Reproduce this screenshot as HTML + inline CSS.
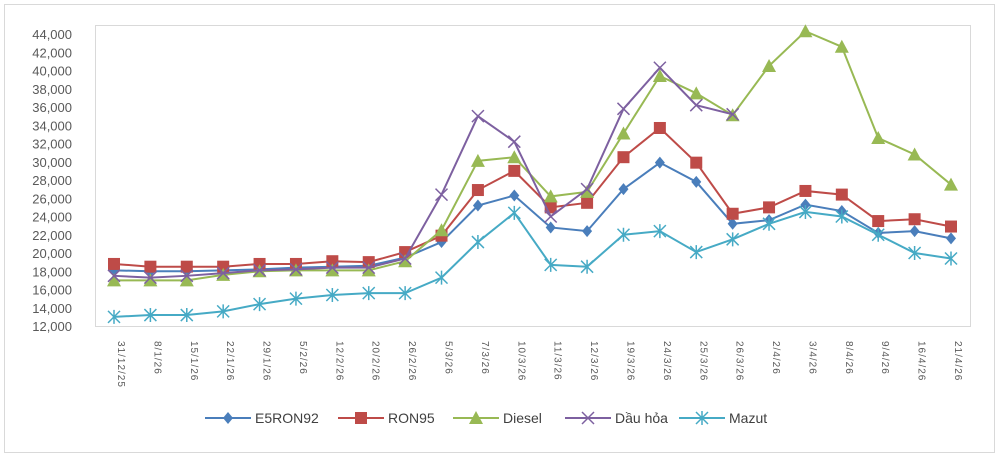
<!DOCTYPE html>
<html><head><meta charset="utf-8"><style>
body{margin:0;background:#fff;width:1000px;height:457px;overflow:hidden;font-family:"Liberation Sans",sans-serif}
</style></head><body>
<svg id="chart" width="1000" height="457" xmlns="http://www.w3.org/2000/svg">
<rect x="4.5" y="4.5" width="990" height="448" fill="#fff" stroke="#d9d9d9"/>
<rect x="95.5" y="25.5" width="875" height="301" fill="none" stroke="#d9d9d9"/>
<g id="yaxis"></g><g id="xaxis"></g><g id="series"></g><g id="legend"></g>
</svg>
<script>
const categories=["31/12/25","8/1/26","15/1/26","22/1/26","29/1/26","5/2/26","12/2/26","20/2/26","26/2/26","5/3/26","7/3/26","10/3/26","11/3/26","12/3/26","19/3/26","24/3/26","25/3/26","26/3/26","2/4/26","3/4/26","8/4/26","9/4/26","16/4/26","21/4/26"];
const e5ron92=[18100,18000,18000,18100,18200,18400,18500,18600,19500,21200,25200,26300,22800,22400,27000,29900,27800,23200,23600,25300,24600,22200,22400,21600];
const ron95=[18800,18500,18500,18500,18800,18800,19100,19000,20100,21900,26900,29000,25000,25500,30500,33700,29900,24300,25000,26800,26400,23500,23700,22900];
const diesel=[17000,17000,17000,17600,18000,18100,18100,18100,19100,22500,30100,30500,26200,26700,33100,39400,37500,35100,40500,44300,42600,32600,30800,27500];
const dauhoa=[17500,17300,17500,17800,18100,18200,18400,18400,19400,26400,35000,32200,24000,27000,35800,40300,36200,35200];
const mazut=[13000,13200,13200,13600,14400,15000,15400,15600,15600,17300,21200,24400,18700,18500,22000,22400,20100,21500,23200,24500,24000,22000,20000,19400];
const yTicks=[12000,14000,16000,18000,20000,22000,24000,26000,28000,30000,32000,34000,36000,38000,40000,42000,44000];
const NS="http://www.w3.org/2000/svg";
const y=v=>326-(v-12000)*292/32000;
const x=i=>114+i*(951-114)/(categories.length-1);
function mk(t,a,p){const e=document.createElementNS(NS,t);for(const k in a)e.setAttribute(k,a[k]);p.appendChild(e);return e;}
const ya=document.getElementById('yaxis');
yTicks.forEach(v=>{const t=mk('text',{x:72,y:y(v)+5,'text-anchor':'end','font-size':13,fill:'#595959'},ya);


t.textContent=v.toLocaleString('en-US');});
const xa=document.getElementById('xaxis');
categories.forEach((c,i)=>{const t=mk('text',{x:0,y:0,'text-anchor':'start','font-size':10,fill:'#595959','letter-spacing':'1',transform:`translate(${x(i)+4},${341}) rotate(90)`},xa);


t.textContent=c;});
function marker(type,cx,cy,col,g){
 if(type==='diamond')return mk('path',{d:`M${cx},${cy-6}L${cx+5},${cy}L${cx},${cy+6}L${cx-5},${cy}Z`,fill:col},g);
 if(type==='square')return mk('rect',{x:cx-6,y:cy-6,width:12,height:12,fill:col},g);
 if(type==='triangle')return mk('path',{d:`M${cx},${cy-7}L${cx+7},${cy+6}L${cx-7},${cy+6}Z`,fill:col},g);
 if(type==='x')return mk('path',{d:`M${cx-6},${cy-6}L${cx+6},${cy+6}M${cx+6},${cy-6}L${cx-6},${cy+6}`,stroke:col,'stroke-width':1.5},g);
 return mk('path',{d:`M${cx-6},${cy-6}L${cx+6},${cy+6}M${cx+6},${cy-6}L${cx-6},${cy+6}M${cx},${cy-7}L${cx},${cy+7}`,stroke:col,'stroke-width':1.5},g);
}
const series=[["E5RON92",e5ron92,"#4a7ebb","diamond"],["RON95",ron95,"#be4b48","square"],["Diesel",diesel,"#98b954","triangle"],["Dầu hỏa",dauhoa,"#7d60a0","x"],["Mazut",mazut,"#46aac5","star"]];
const sg=document.getElementById('series');
series.forEach(([n,d,c,m])=>{const g=mk('g',{},sg);


mk('polyline',{points:d.map((v,i)=>x(i)+','+y(v)).join(' '),fill:'none',stroke:c,'stroke-width':2},g);
d.forEach((v,i)=>{const p=marker(m,x(i),y(v),c,g);

});});
const lg=document.getElementById('legend');
const lx=[205,338,453,565,679];
series.forEach(([n,d,c,m],k)=>{const g=mk('g',{},lg);


mk('line',{x1:lx[k],y1:418,x2:lx[k]+46,y2:418,stroke:c,'stroke-width':2},g);
marker(m,lx[k]+23,418,c,g);
const t=mk('text',{x:lx[k]+50,y:423,'font-size':14,fill:'#404040'},g);t.textContent=n;});
</script>
</body></html>
